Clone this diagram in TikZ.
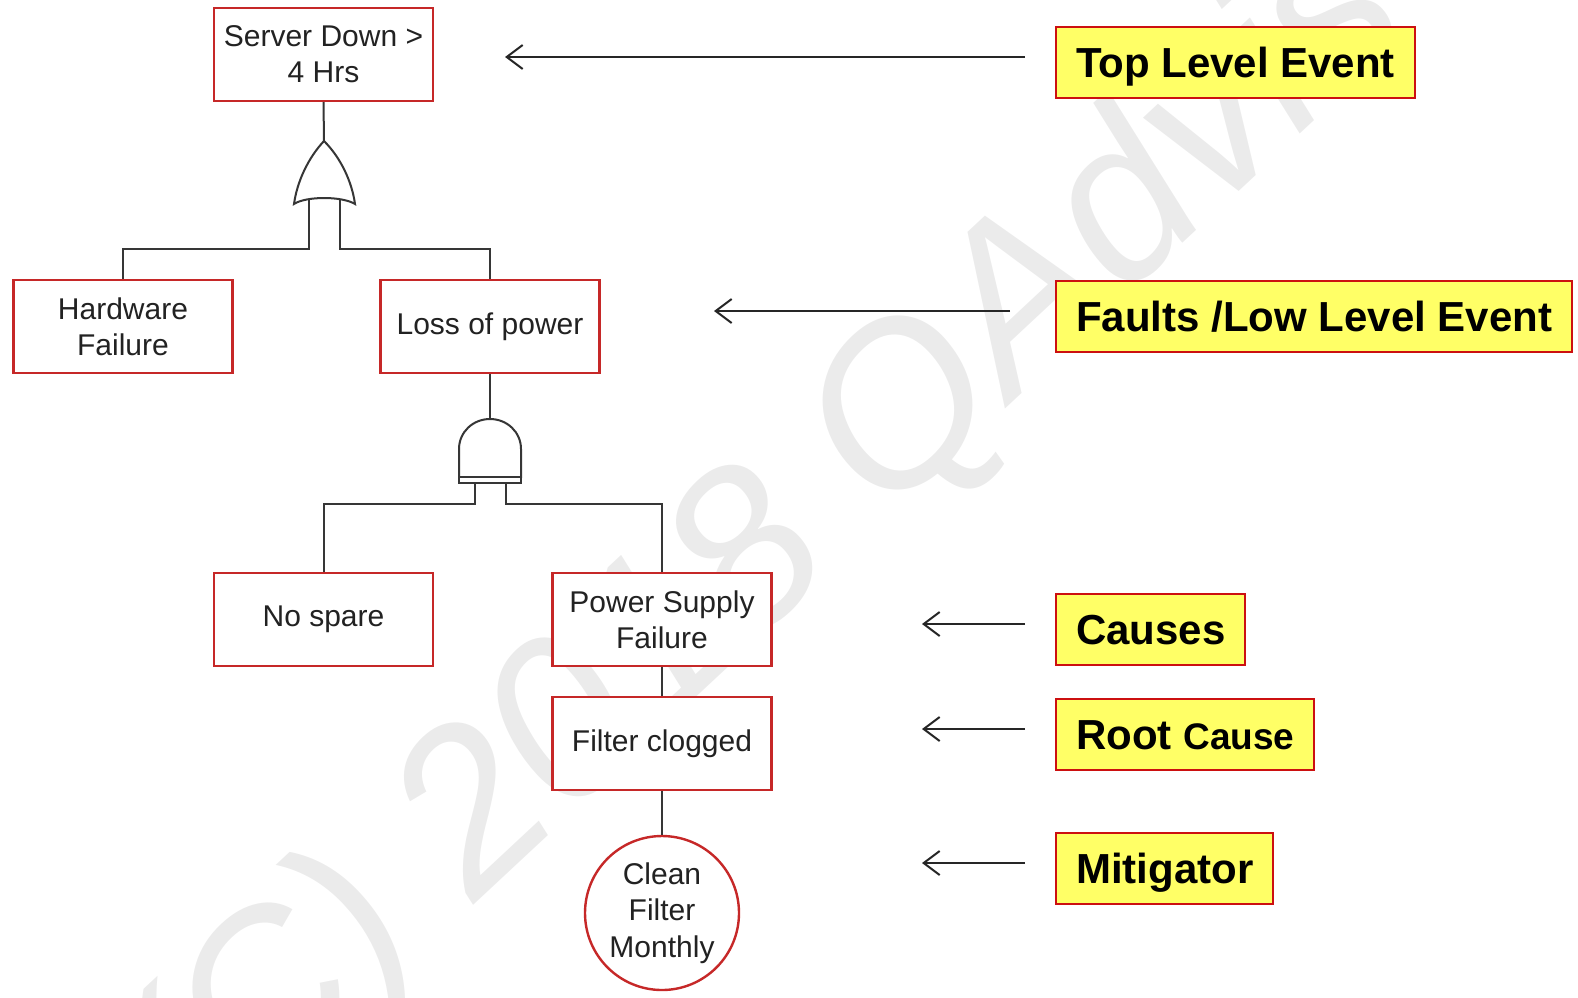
\documentclass[tikz,border=0pt]{standalone}
\usepackage{fontspec}
\setmainfont{Liberation Sans}
\usetikzlibrary{arrows.meta}
\definecolor{boxred}{HTML}{C62828}
\definecolor{lblred}{HTML}{CC1010}
\definecolor{lblfill}{HTML}{FFFF66}
\definecolor{wirec}{HTML}{363636}
\definecolor{txt}{HTML}{222222}
\definecolor{wmark}{HTML}{EBEBEB}

\begin{document}
\begin{tikzpicture}[x=1pt,y=-1pt,
  event/.style={draw=boxred, line width=2.4pt, fill=white, minimum width=219pt,
    minimum height=93pt, inner sep=0pt, align=center,
    font=\fontsize{30}{36}\selectfont, text=txt},
  mitig/.style={circle, draw=boxred, line width=2.4pt, fill=white, minimum size=154pt,
    inner sep=0pt, align=center, font=\fontsize{30}{36.5}\selectfont, text=txt},
  wire/.style={draw=wirec, line width=2pt},
  gate/.style={draw=wirec, line width=2pt, fill=white},
  lbl/.style={draw=lblred, line width=2pt, fill=lblfill, anchor=west,
    minimum height=71pt, inner xsep=20pt, inner ysep=0pt, text height=30pt,
    text depth=0pt, font=\fontsize{42}{50}\selectfont\bfseries, text=black},
  pointer/.style={draw=black!85, line width=2pt,
    -{Straight Barb[length=16pt,width=24pt]}}
]
\useasboundingbox (0,0) rectangle (1578,997);

% copyright watermark behind everything
\begin{scope}
  \clip (0,0) rectangle (1578,997);
  \node[rotate=43, anchor=base west, inner sep=0pt, text=wmark,
        font=\fontsize{225}{260}\selectfont\itshape] (wm) at (200,1160) {(C) 2018 QAdvis};
\end{scope}

% ---- events ----
\node[event] (sd)  at (323.5,54.5)  {Server Down >\\4 Hrs};
\node[event] (hw)  at (123,326.5)   {Hardware\\Failure};
\node[event] (lop) at (490,326.5)   {Loss of power};
\node[event] (ns)  at (323.5,619.5) {No spare};
\node[event] (psf) at (662,619.5)   {Power Supply\\Failure};
\node[event] (fc)  at (662,743.5)   {Filter clogged};
\node[mitig] (cfm) at (662,913)     {Clean\\Filter\\Monthly};

% ---- gate terminals and buses ----
\coordinate (orTop) at (324,141);
\coordinate (orL)   at (309,198);
\coordinate (orR)   at (340,198);
\coordinate (bus1)  at (0,249);
\coordinate (andTop) at (490,419);
\coordinate (andL)  at (475,483);
\coordinate (andR)  at (506,483);
\coordinate (bus2)  at (0,504);

% ---- wiring ----
\draw[wire] (sd.south) -- (orTop);
\draw[wire] (orL) -- (orL |- bus1) -| (hw.north);
\draw[wire] (orR) -- (orR |- bus1) -| (lop.north);
\draw[wire] (lop.south) -- (andTop);
\draw[wire] (andL) -- (andL |- bus2) -| (ns.north);
\draw[wire] (andR) -- (andR |- bus2) -| (psf.north);
\draw[wire] (psf.south) -- (fc.north);
\draw[wire] (fc.south) -- (cfm.north);

% ---- OR gate ----
\draw[gate] (orTop) .. controls (308,158) and (297,182) .. (294,204)
  .. controls (306,196) and (342,196) .. (355,204)
  .. controls (352,182) and (341,158) .. (orTop) -- cycle;

% ---- AND gate ----
\draw[gate] (459,477) -- (459,449) .. controls (459,432) and (473,419) .. (andTop)
  .. controls (507,419) and (521,432) .. (521,449) -- (521,477) -- cycle;
\draw[gate] (459,477) rectangle (521,483);

% ---- legend labels ----
\node[lbl] (tle)  at (1055,62.5)  {Top Level Event};
\node[lbl] (flle) at (1055,316.5) {Faults /Low Level Event};
\node[lbl] (cau)  at (1055,629.5) {Causes};
\node[lbl] (rc)   at (1055,734.5) {Root {\fontsize{37}{44}\selectfont Cause}};
\node[lbl] (mit)  at (1055,868.5) {Mitigator};

% ---- pointers ----
\coordinate (t1) at (1025,57);  \coordinate (h1) at (505,57);
\coordinate (t2) at (1010,311); \coordinate (h2) at (714,311);
\coordinate (t3) at (1025,624); \coordinate (h3) at (922,624);
\coordinate (t4) at (1025,729); \coordinate (h4) at (922,729);
\coordinate (t5) at (1025,863); \coordinate (h5) at (922,863);
\draw[pointer] (t1) -- (h1);
\draw[pointer] (t2) -- (h2);
\draw[pointer] (t3) -- (h3);
\draw[pointer] (t4) -- (h4);
\draw[pointer] (t5) -- (h5);
\end{tikzpicture}
\end{document}
